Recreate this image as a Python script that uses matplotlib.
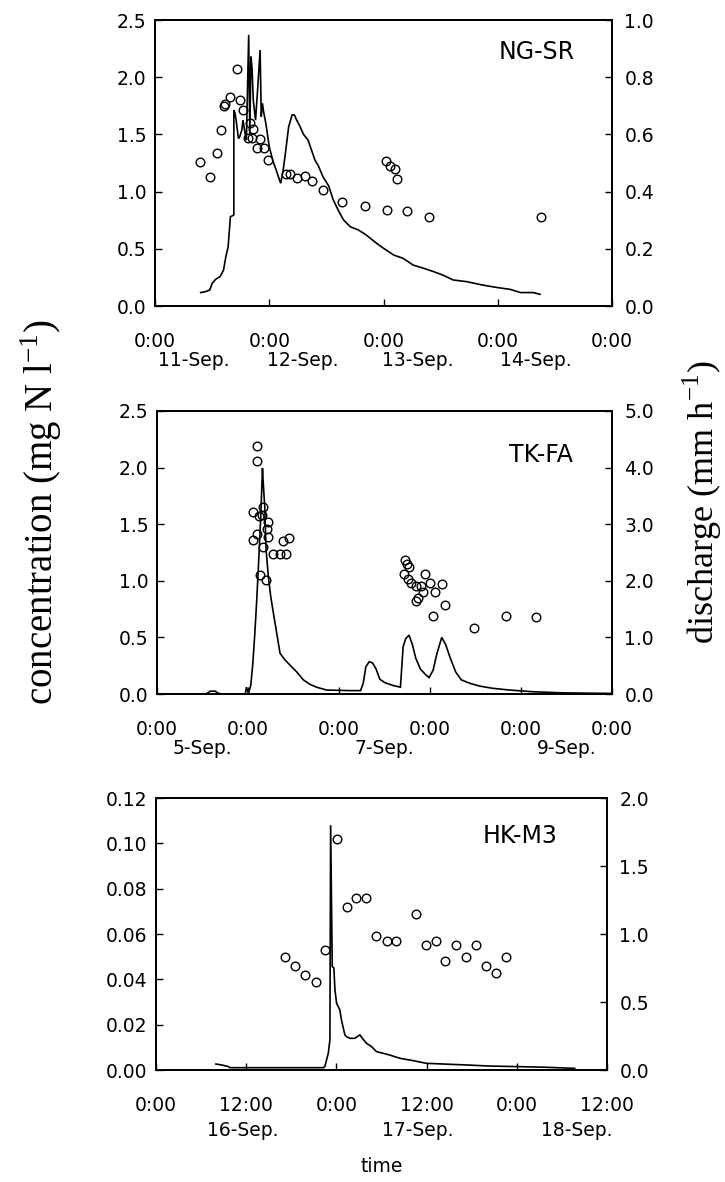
import matplotlib
matplotlib.use('Agg')
import matplotlib.pyplot as plt
import matplotlib.transforms as mtransforms
from matplotlib.ticker import FixedLocator, FormatStrFormatter

plt.rcParams['font.family'] = ['DejaVu Sans']
plt.rcParams['mathtext.fontset'] = 'custom'
plt.rcParams['mathtext.rm'] = 'Liberation Serif'

# ---------------- data (time in days from the first axis tick) ----------------
# NG-SR  (11-Sep 0:00 .. 15-Sep 0:00)
ng_conc_t = [0.39, 0.48, 0.54, 0.58, 0.60, 0.61, 0.66, 0.72, 0.74, 0.77, 0.83, 0.86,
             0.81, 0.85, 0.92, 0.89, 0.95, 0.99, 1.15, 1.18, 1.24, 1.31, 1.37, 1.47,
             1.64, 1.84, 2.03, 2.21, 2.40, 2.02, 2.06, 2.10, 2.12, 3.38]
ng_conc = [1.26, 1.13, 1.34, 1.54, 1.75, 1.77, 1.83, 2.07, 1.80, 1.71, 1.60, 1.55,
           1.47, 1.47, 1.46, 1.38, 1.38, 1.28, 1.15, 1.15, 1.12, 1.14, 1.09, 1.01,
           0.91, 0.87, 0.84, 0.83, 0.78, 1.27, 1.22, 1.20, 1.11, 0.78]
ng_q_t = [0.40, 0.44, 0.48, 0.50, 0.53, 0.57, 0.60, 0.62, 0.64, 0.66,
          0.69, 0.69, 0.70, 0.71, 0.73, 0.74, 0.76, 0.77, 0.79, 0.80,
          0.82, 0.83, 0.84, 0.85, 0.86, 0.88, 0.90, 0.92, 0.93, 0.94,
          0.95, 0.97, 1.00, 1.03, 1.06, 1.08, 1.10, 1.12, 1.14, 1.17,
          1.20, 1.22, 1.24, 1.27, 1.30, 1.34, 1.37, 1.40, 1.43, 1.47,
          1.52, 1.56, 1.61, 1.65, 1.71, 1.78, 1.85, 1.94, 2.00, 2.09,
          2.17, 2.26, 2.35, 2.44, 2.52, 2.61, 2.73, 2.87, 2.99, 3.11,
          3.20, 3.31, 3.37]
ng_q = [0.047, 0.050, 0.056, 0.079, 0.093, 0.103, 0.126, 0.172, 0.207, 0.312,
        0.318, 0.685, 0.674, 0.650, 0.586, 0.590, 0.615, 0.650, 0.600, 0.580,
        0.948, 0.600, 0.872, 0.827, 0.720, 0.650, 0.767, 0.895, 0.662, 0.709,
        0.680, 0.639, 0.557, 0.510, 0.476, 0.452, 0.429, 0.470, 0.530, 0.627,
        0.668, 0.668, 0.650, 0.627, 0.600, 0.580, 0.545, 0.510, 0.490, 0.452,
        0.420, 0.371, 0.330, 0.301, 0.277, 0.266, 0.248, 0.219, 0.202, 0.178,
        0.167, 0.143, 0.132, 0.120, 0.108, 0.091, 0.085, 0.073, 0.065, 0.058,
        0.047, 0.047, 0.041]

# TK-FA  (5-Sep 0:00 .. 10-Sep 0:00)
tk_conc_t = [1.10, 1.10, 1.06, 1.12, 1.16, 1.15, 1.22, 1.21, 1.22, 1.10, 1.06, 1.17,
             1.28, 1.35, 1.42, 1.38, 1.45, 1.13, 1.20,
             2.73, 2.75, 2.77, 2.71, 2.76, 2.79, 2.85, 2.90, 2.92, 2.87, 2.85,
             2.95, 3.00, 3.13, 3.06, 3.16, 3.03, 3.48, 3.84, 4.16]
tk_conc = [2.19, 2.06, 1.61, 1.57, 1.65, 1.58, 1.52, 1.46, 1.39, 1.41, 1.36, 1.30,
           1.24, 1.24, 1.24, 1.35, 1.38, 1.05, 1.01,
           1.18, 1.15, 1.12, 1.06, 1.02, 0.98, 0.95, 0.95, 0.90, 0.85, 0.82,
           1.06, 0.98, 0.97, 0.90, 0.79, 0.69, 0.58, 0.69, 0.68]
tk_q_t = [0.548, 0.585, 0.640, 0.676, 0.731, 0.969, 0.983, 1.005, 1.031, 1.053,
          1.075, 1.096, 1.118, 1.140, 1.159, 1.170, 1.184, 1.199, 1.224, 1.250,
          1.279, 1.316, 1.352, 1.407, 1.462, 1.535, 1.608, 1.681, 1.754, 1.864,
          2.120, 2.237, 2.266, 2.295, 2.332, 2.368, 2.405, 2.449, 2.504, 2.595,
          2.675, 2.690, 2.705, 2.734, 2.770, 2.807, 2.844, 2.895, 2.953, 2.990,
          3.034, 3.077, 3.129, 3.173, 3.224, 3.282, 3.344, 3.436, 3.545, 3.692,
          3.874, 4.130, 4.459, 5.0]
tk_q = [0.01, 0.05, 0.05, 0.01, 0.0, 0.0, 0.12, 0.01, 0.16, 0.54,
        1.07, 1.66, 2.37, 3.13, 3.99, 3.66, 3.31, 2.54, 2.07, 1.72,
        1.43, 1.07, 0.72, 0.60, 0.51, 0.39, 0.25, 0.17, 0.12, 0.07,
        0.06, 0.06, 0.19, 0.48, 0.57, 0.55, 0.45, 0.26, 0.20, 0.15,
        0.12, 0.48, 0.84, 0.98, 1.04, 0.87, 0.63, 0.44, 0.34, 0.29,
        0.42, 0.72, 1.00, 0.87, 0.63, 0.39, 0.25, 0.19, 0.14, 0.10,
        0.07, 0.04, 0.02, 0.01]

# HK-M3  (16-Sep 0:00 .. 18-Sep 12:00)
hk_conc_t = [0.715, 0.770, 0.825, 0.886, 0.936, 1.001, 1.056, 1.108, 1.163, 1.219,
             1.278, 1.333, 1.444, 1.496, 1.551, 1.603, 1.662, 1.721, 1.773, 1.832,
             1.887, 1.942]
hk_conc = [0.050, 0.046, 0.042, 0.039, 0.053, 0.102, 0.072, 0.076, 0.076, 0.059,
           0.057, 0.057, 0.069, 0.055, 0.057, 0.048, 0.055, 0.050, 0.055, 0.046,
           0.043, 0.050]
hk_q_t = [0.332, 0.364, 0.401, 0.410, 0.705, 0.927, 0.936, 0.955, 0.964, 0.968,
          0.977, 0.986, 0.992, 1.001, 1.019, 1.028, 1.047, 1.056, 1.075, 1.102,
          1.130, 1.148, 1.167, 1.195, 1.222, 1.259, 1.296, 1.352, 1.425, 1.499,
          1.592, 1.721, 1.850, 1.998, 2.164, 2.321]
hk_q = [0.044, 0.037, 0.025, 0.017, 0.017, 0.017, 0.025, 0.123, 0.221, 1.80,
        0.761, 0.75, 0.589, 0.491, 0.442, 0.368, 0.258, 0.245, 0.233, 0.233,
        0.258, 0.226, 0.196, 0.172, 0.135, 0.123, 0.110, 0.086, 0.069, 0.049,
        0.044, 0.037, 0.029, 0.025, 0.020, 0.012]

# ticks / labels
ng_xticks = [0, 1, 2, 3, 4]
ng_xlabels = ['0:00', '0:00', '0:00', '0:00', '0:00']
ng_dates = ['11-Sep.', '12-Sep.', '13-Sep.', '14-Sep.']
ng_date_pos = [0.34, 1.29, 2.30, 3.33]
tk_xticks = [0, 1, 2, 3, 4, 5]
tk_xlabels = ['0:00'] * 6
tk_dates = ['5-Sep.', '7-Sep.', '9-Sep.']
tk_date_pos = [0.5, 2.5, 4.5]
hk_xticks = [0, 0.5, 1, 1.5, 2, 2.5]
hk_xlabels = ['0:00', '12:00', '0:00', '12:00', '0:00', '12:00']
hk_dates = ['16-Sep.', '17-Sep.', '18-Sep.']
hk_date_pos = [0.48, 1.45, 2.33]

W, H = 725, 1182
fig = plt.figure(figsize=(W / 100, H / 100), dpi=100)

TICK_FS = 13.5


def rect(l, t, r, b):
    return [l / W, 1 - b / H, (r - l) / W, (b - t) / H]


def panel(box, name, name_xy, ct, c, qt, q, xlim, xticks, xlabels,
          lticks, lfmt, rticks, rfmt, dates, date_pos, date_y):
    ax = fig.add_axes(rect(*box))
    ax2 = ax.twinx()
    ax2.plot(qt, q, color='black', lw=1.2, solid_joinstyle='miter')
    ax.plot(ct, c, linestyle='none', marker='o', ms=6.2, mfc='none',
            mec='black', mew=1.0)
    ax.set_zorder(ax2.get_zorder() + 1)
    ax.patch.set_visible(False)
    ax.set_xlim(*xlim)
    ax.set_ylim(lticks[0], lticks[-1])
    ax2.set_ylim(rticks[0], rticks[-1])
    ax.xaxis.set_major_locator(FixedLocator(xticks))
    ax.set_xticklabels(xlabels)
    ax.yaxis.set_major_locator(FixedLocator(lticks))
    ax.yaxis.set_major_formatter(FormatStrFormatter(lfmt))
    ax2.yaxis.set_major_locator(FixedLocator(rticks))
    ax2.yaxis.set_major_formatter(FormatStrFormatter(rfmt))
    ax.tick_params(axis='x', direction='in', length=5, width=1,
                   labelsize=TICK_FS, pad=19)
    ax.tick_params(axis='y', direction='in', length=5, width=1,
                   labelsize=TICK_FS, pad=6)
    ax2.tick_params(axis='y', direction='in', length=5, width=1,
                    labelsize=TICK_FS, pad=9)
    for a in (ax, ax2):
        for s in a.spines.values():
            s.set_linewidth(1.3)
    ax.text(name_xy[0], name_xy[1], name, transform=ax.transAxes,
            ha='right', va='center', fontsize=17)
    tr = mtransforms.blended_transform_factory(ax.transData, fig.transFigure)
    for lab, p in zip(dates, date_pos):
        ax.text(p, 1 - date_y / H, lab, transform=tr, ha='center',
                va='center', fontsize=TICK_FS, clip_on=False)
    return ax


panel((155, 20, 612, 306), 'NG-SR', (0.919, 0.888), ng_conc_t, ng_conc,
      ng_q_t, ng_q, (0, 4), ng_xticks, ng_xlabels,
      [0, 0.5, 1.0, 1.5, 2.0, 2.5], '%.1f', [0, 0.2, 0.4, 0.6, 0.8, 1.0], '%.1f',
      ng_dates, ng_date_pos, 361)

panel((157, 411, 612, 694), 'TK-FA', (0.914, 0.845), tk_conc_t, tk_conc,
      tk_q_t, tk_q, (0, 5), tk_xticks, tk_xlabels,
      [0, 0.5, 1.0, 1.5, 2.0, 2.5], '%.1f', [0, 1, 2, 3, 4, 5], '%.1f',
      tk_dates, tk_date_pos, 748)

ax3 = panel((156, 798, 607, 1070), 'HK-M3', (0.891, 0.86), hk_conc_t, hk_conc,
            hk_q_t, hk_q, (0, 2.5), hk_xticks, hk_xlabels,
            [0, 0.02, 0.04, 0.06, 0.08, 0.10, 0.12], '%.2f',
            [0, 0.5, 1.0, 1.5, 2.0], '%.1f',
            hk_dates, hk_date_pos, 1130)

fig.text(382 / W, 1 - 1167 / H, 'time', ha='center', va='center', fontsize=TICK_FS)
fig.text(41 / W, 1 - 512 / H, r'concentration (mg N l$^{\mathregular{-1}}$)',
         rotation=90, ha='center', va='center', fontsize=28,
         family='Liberation Serif')
fig.text(702 / W, 1 - 502 / H, r'discharge (mm h$^{\mathregular{-1}}$)',
         rotation=90, ha='center', va='center', fontsize=26,
         family='Liberation Serif')

fig.savefig('out.png', dpi=100)
